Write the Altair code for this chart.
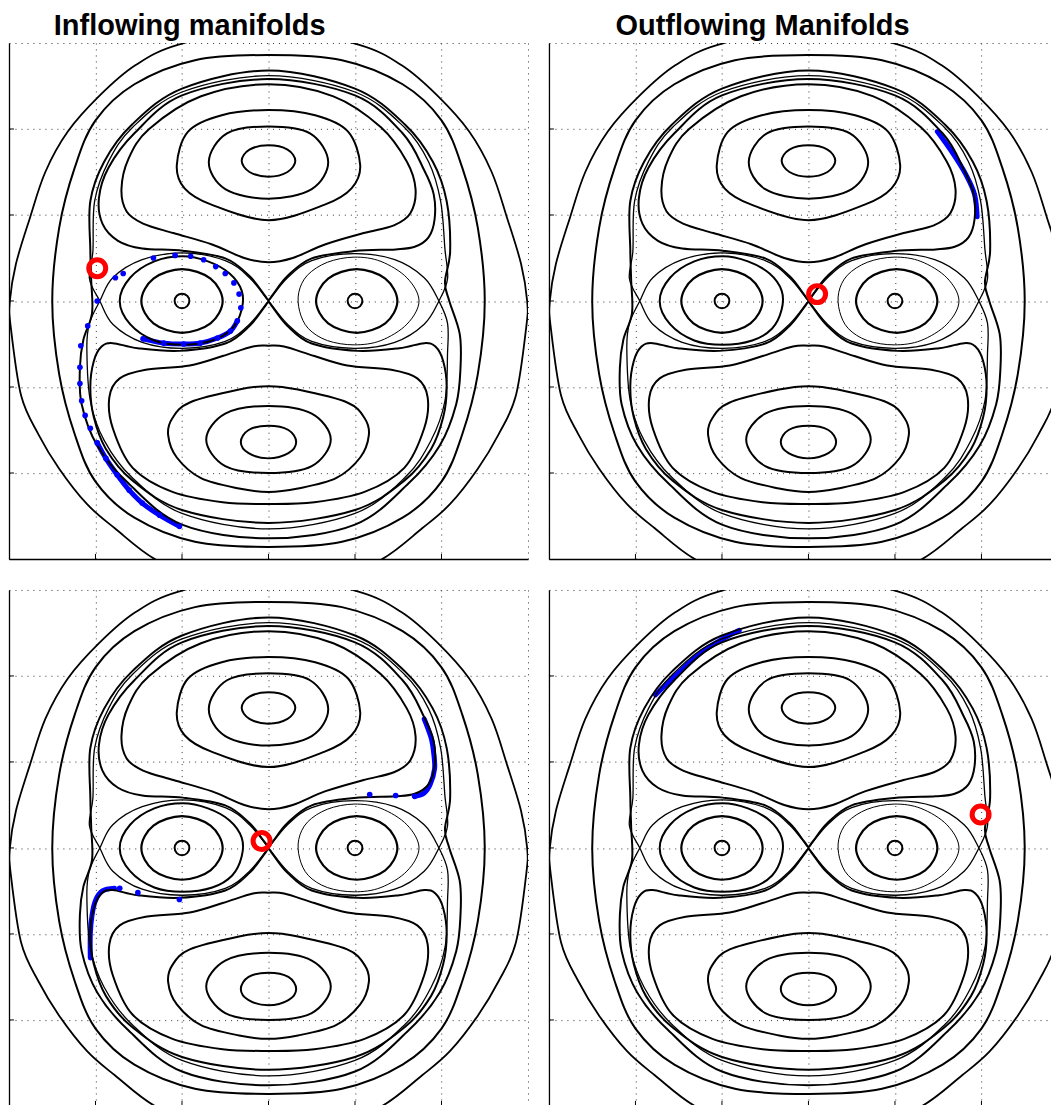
import altair as alt
import pandas as pd

# ---------------- text / axes ----------------
TITLES = ["Inflowing manifolds", "Outflowing Manifolds"]
GRID_VALUES = [-3, -2, -1, 0, 1, 2, 3]
TICK_VALUES = [-2, -1, 0, 1, 2]

# ---------------- contour curves (u, v) ----------------
O1 = [(0, 3.20), (1.04, 2.98), (1.54, 2.74), (1.95, 2.39), (2.32, 1.97), (2.58, 1.50), (2.76, 0.96),
      (2.92, 0.43), (2.99, 0.0), (2.98, -0.30), (2.86, -1.10), (2.66, -1.55), (2.42, -1.95), (2.10, -2.36),
      (1.78, -2.64), (1.28, -3.02), (0.62, -3.25), (0, -3.30), (-0.62, -3.25), (-1.28, -3.02), (-1.78, -2.64),
      (-2.10, -2.36), (-2.42, -1.95), (-2.66, -1.55), (-2.86, -1.10), (-2.98, -0.30), (-2.99, 0.0),
      (-2.92, 0.43), (-2.76, 0.96), (-2.58, 1.50), (-2.32, 1.97), (-1.95, 2.39), (-1.54, 2.74), (-1.04, 2.98)]
O2 = [(0, 2.86), (0.85, 2.80), (1.55, 2.52), (2.00, 2.10), (2.24, 1.55), (2.42, 0.85), (2.50, 0),
      (2.42, -0.85), (2.24, -1.55), (2.00, -2.10), (1.55, -2.52), (0.85, -2.80), (0, -2.86), (-0.85, -2.80),
      (-1.55, -2.52), (-2.00, -2.10), (-2.24, -1.55), (-2.42, -0.85), (-2.50, 0), (-2.42, 0.85),
      (-2.24, 1.55), (-2.00, 2.10), (-1.55, 2.52), (-0.85, 2.80)]
E = [(0, 2.68), (1.0, 2.47), (1.58, 2.05), (1.90, 1.62), (2.06, 1.16), (2.10, 0.58), (2.04, 0.22),
     (2.09, 0.0), (2.21, -0.38), (2.22, -0.77), (2.17, -1.20), (1.98, -1.68), (1.62, -2.12), (1.0, -2.60),
     (0, -2.76), (-1.0, -2.60), (-1.62, -2.12), (-1.98, -1.68), (-2.16, -1.20), (-2.18, -0.77),
     (-2.14, -0.45), (-2.04, -0.14), (-2.05, 0.25), (-2.06, 0.60), (-2.06, 1.16), (-1.90, 1.62),
     (-1.58, 2.05), (-1.0, 2.47)]
S = [(1.97, 0.0), (2.07, 0.26), (2.04, 0.60), (1.99, 1.16), (1.85, 1.62), (1.57, 2.02), (1.00, 2.43),
     (0, 2.62), (-1.00, 2.43), (-1.57, 2.02), (-1.85, 1.62), (-2.01, 1.16), (-2.03, 0.58), (-2.07, 0.26),
     (-1.95, 0.0), (-1.80, -0.27), (-1.46, -0.48), (-0.99, -0.55), (-0.50, -0.47), (-0.22, -0.27), (0, 0),
     (0.22, 0.27), (0.50, 0.47), (0.99, 0.55), (1.46, 0.48), (1.80, 0.27), (1.97, 0.0),
     (2.07, -0.26), (2.07, -0.60), (2.04, -1.16), (1.88, -1.62), (1.58, -2.05), (1.00, -2.47), (0, -2.65),
     (-1.00, -2.47), (-1.58, -2.05), (-1.90, -1.62), (-2.06, -1.16), (-2.10, -0.55), (-2.07, -0.26),
     (-1.95, 0.0), (-1.80, 0.27), (-1.46, 0.48), (-0.99, 0.56), (-0.50, 0.47), (-0.22, 0.27), (0, 0),
     (0.22, -0.27), (0.50, -0.47), (0.99, -0.55), (1.46, -0.48), (1.80, -0.27)]
K5 = [(0, 0.015), (0.05, 0.075), (0.22, 0.29), (0.50, 0.495), (0.99, 0.58), (1.47, 0.60), (1.69, 0.63),
      (1.85, 0.74), (1.92, 0.95), (1.91, 1.24), (1.80, 1.52), (1.55, 1.95), (1.0, 2.39), (0, 2.58),
      (-1.0, 2.39), (-1.55, 1.95), (-1.85, 1.55), (-1.96, 1.20), (-1.92, 0.90), (-1.74, 0.70),
      (-1.46, 0.61), (-0.99, 0.585), (-0.50, 0.495), (-0.22, 0.29), (-0.05, 0.075)]
K5b = [(0, -0.015), (0.05, -0.075), (0.22, -0.29), (0.50, -0.495), (1.03, -0.58), (1.51, -0.55),
       (1.80, -0.49), (1.93, -0.53), (2.02, -0.70), (2.06, -1.0), (2.02, -1.35), (1.88, -1.72),
       (1.58, -2.08), (1.0, -2.43), (0, -2.58), (-1.0, -2.43), (-1.58, -2.08), (-1.88, -1.72),
       (-2.02, -1.35), (-2.06, -1.0), (-2.02, -0.70), (-1.93, -0.53), (-1.80, -0.49), (-1.51, -0.55),
       (-1.03, -0.58), (-0.50, -0.495), (-0.22, -0.29), (-0.05, -0.075)]
K4 = [(0, 2.52), (0.75, 2.38), (1.30, 2.02), (1.60, 1.62), (1.70, 1.30), (1.64, 1.02), (1.45, 0.88),
      (1.10, 0.79), (0.66, 0.66), (0.28, 0.50), (0, 0.45), (-0.28, 0.50), (-0.66, 0.66), (-1.10, 0.79),
      (-1.45, 0.90), (-1.64, 1.04), (-1.70, 1.30), (-1.62, 1.65), (-1.38, 2.00), (-0.78, 2.38)]
K4b = [(0, -0.52), (0.18, -0.53), (0.53, -0.64), (0.91, -0.75), (1.42, -0.80), (1.72, -0.90),
       (1.84, -1.12), (1.80, -1.48), (1.57, -1.94), (1.11, -2.22), (0.53, -2.34), (0, -2.36),
       (-0.53, -2.34), (-1.11, -2.22), (-1.57, -1.94), (-1.80, -1.48), (-1.84, -1.12), (-1.72, -0.90),
       (-1.42, -0.80), (-0.91, -0.75), (-0.53, -0.64), (-0.18, -0.53)]
K3 = [(0, 2.22), (0.54, 2.16), (0.92, 1.97), (1.06, 1.58), (0.96, 1.31), (0.65, 1.12), (0, 0.94),
      (-0.66, 1.12), (-0.97, 1.31), (-1.06, 1.58), (-0.93, 1.97), (-0.54, 2.16)]
K3b = [(0, -0.99), (0.34, -1.03), (0.91, -1.18), (1.11, -1.36), (1.16, -1.56), (1.06, -1.82),
       (0.78, -2.06), (0.34, -2.18), (0, -2.22), (-0.34, -2.18), (-0.78, -2.06), (-1.06, -1.82),
       (-1.16, -1.56), (-1.11, -1.36), (-0.91, -1.18), (-0.34, -1.03)]
K2 = [(0, 2.03), (0.48, 1.95), (0.69, 1.62), (0.50, 1.30), (0, 1.19), (-0.50, 1.30), (-0.69, 1.62),
      (-0.48, 1.95)]
K2b = [(0, -1.22), (0.50, -1.31), (0.72, -1.61), (0.50, -1.92), (0, -2.00), (-0.50, -1.92),
       (-0.72, -1.61), (-0.50, -1.31)]
K1 = [(0, 1.81), (0.22, 1.76), (0.31, 1.63), (0.22, 1.50), (0, 1.445), (-0.22, 1.50), (-0.31, 1.63),
      (-0.22, 1.76)]
K1b = [(0, -1.45), (0.23, -1.50), (0.32, -1.64), (0.23, -1.77), (0, -1.83), (-0.23, -1.77),
       (-0.32, -1.64), (-0.23, -1.50)]
LL = [(-1.72, 0), (-1.60, 0.27), (-1.32, 0.46), (-0.99, 0.52), (-0.70, 0.46), (-0.45, 0.32),
      (-0.31, 0.12), (-0.31, -0.10), (-0.42, -0.32), (-0.65, -0.46), (-0.99, -0.51), (-1.32, -0.46),
      (-1.60, -0.27)]
RL = [(1.74, 0), (1.60, 0.27), (1.30, 0.46), (0.99, 0.51), (0.68, 0.45), (0.45, 0.30), (0.35, 0.10),
      (0.36, -0.12), (0.46, -0.32), (0.68, -0.46), (0.99, -0.51), (1.30, -0.46), (1.60, -0.27)]
IL = [(-0.53, 0), (-0.67, 0.26), (-1.0, 0.37), (-1.33, 0.26), (-1.47, 0), (-1.33, -0.26), (-1.0, -0.37),
      (-0.67, -0.26)]
IR = [(1.49, 0), (1.35, 0.26), (1.02, 0.37), (0.69, 0.26), (0.55, 0), (0.69, -0.26), (1.02, -0.37),
      (1.35, -0.26)]
CL = [(-0.915, 0), (-0.94, 0.06), (-1.0, 0.085), (-1.06, 0.06), (-1.085, 0), (-1.06, -0.06),
      (-1.0, -0.085), (-0.94, -0.06)]
CR = [(1.085, 0), (1.06, 0.06), (1.0, 0.085), (0.94, 0.06), (0.915, 0), (0.94, -0.06), (1.0, -0.085),
      (1.06, -0.06)]

CURVES = {"O1": O1, "O2": O2, "E": E, "S": S, "K5": K5, "K5b": K5b, "K4": K4, "K4b": K4b,
          "K3": K3, "K3b": K3b, "K2": K2, "K2b": K2b, "K1": K1, "K1b": K1b, "LL": LL, "RL": RL,
          "IL": IL, "IR": IR, "CL": CL, "CR": CR}
WIDTHS = {"O1": 1.8, "O2": 2.0, "E": 2.0, "S": 1.3, "K5": 2.0, "K5b": 2.0, "K4": 2.0, "K4b": 2.0,
          "K3": 2.0, "K3b": 2.0, "K2": 2.0, "K2b": 2.0, "K1": 2.0, "K1b": 2.0, "LL": 2.0, "RL": 1.0,
          "IL": 2.2, "IR": 2.2, "CL": 2.0, "CR": 2.0}

# ---------------- manifold samples (blue) and saddle markers (red) ----------------
TL_DOTS = [(-1.03, -2.62), (-1.26, -2.49), (-1.46, -2.35), (-1.61, -2.20), (-1.75, -2.02), (-1.88, -1.83),
           (-1.98, -1.65), (-2.06, -1.48), (-2.12, -1.33), (-2.16, -1.16), (-2.18, -0.96), (-2.18, -0.77),
           (-2.17, -0.52), (-2.09, -0.29), (-1.98, 0.00), (-1.77, 0.27), (-1.68, 0.32), (-1.33, 0.50),
           (-1.08, 0.53), (-0.90, 0.52), (-0.75, 0.48), (-0.61, 0.40), (-0.50, 0.32), (-0.40, 0.21),
           (-0.34, 0.08), (-0.32, -0.08), (-0.36, -0.23), (-0.44, -0.35), (-0.59, -0.43), (-0.79, -0.49),
           (-0.98, -0.50), (-1.21, -0.49), (-1.45, -0.44)]
TL_BANDS = [[(-1.98, -1.65), (-1.88, -1.83), (-1.75, -2.02), (-1.61, -2.20), (-1.46, -2.35),
             (-1.26, -2.49), (-1.03, -2.62)],
            [(-1.45, -0.44), (-1.21, -0.49), (-0.98, -0.50), (-0.79, -0.49), (-0.59, -0.43),
             (-0.44, -0.35), (-0.36, -0.23)]]
TR_DOTS = []
TR_BANDS = [[(1.49, 1.97), (1.66, 1.73), (1.82, 1.47), (1.92, 1.24), (1.95, 0.98)]]
BL_DOTS = [(1.17, 0.62), (1.47, 0.61), (1.69, 0.60), (-1.03, -0.60), (-1.51, -0.52), (-1.72, -0.47)]
BL_BANDS = [[(1.69, 0.60), (1.80, 0.64), (1.87, 0.74), (1.92, 0.92), (1.91, 1.10), (1.88, 1.28),
             (1.80, 1.50)],
            [(-1.78, -0.47), (-1.92, -0.50), (-2.00, -0.61), (-2.04, -0.78), (-2.06, -1.0),
             (-2.06, -1.28)]]
BR_DOTS = []
BR_BANDS = [[(-1.77, 1.78), (-1.49, 2.05), (-1.23, 2.28), (-0.99, 2.43), (-0.80, 2.53)]]
RED = {"TL": (-1.98, 0.38), "TR": (0.10, 0.08), "BL": (-0.08, 0.08), "BR": (1.99, 0.39)}

# ---------------- build tables ----------------
rows = []
for name, pts in CURVES.items():
    for i, (u, v) in enumerate(pts):
        rows.append({"curve": name, "i": i, "u": u, "v": v, "w": WIDTHS[name]})
curves_df = pd.DataFrame(rows)

H = 517
W_LEFT = 520
W_RIGHT = 503                     # right column is cut off by the page edge
X_RIGHT_MAX = -3 + 6 * W_RIGHT / W_LEFT
YS = alt.Scale(domain=[-3, 3], nice=False, zero=False)
AX = alt.Axis(values=GRID_VALUES, grid=True, gridDash=[1, 5], gridColor="#333333", gridWidth=1,
              labels=False, ticks=False, domain=True, domainColor="black", domainWidth=1.3,
              title=None)
BLUE = "#0000ff"


def panel(dots, bands, red, width, xmax, title=None, title_x=0):
    XS = alt.Scale(domain=[-3, xmax], nice=False, zero=False)
    xe = alt.X("u:Q", scale=XS, axis=AX)
    ye = alt.Y("v:Q", scale=YS, axis=AX)
    layers = []
    brows = []
    for s, seg in enumerate(bands):
        for i, (u, v) in enumerate(seg):
            brows.append({"seg": s, "i": i, "u": u, "v": v})
    if brows:
        layers.append(alt.Chart(pd.DataFrame(brows)).mark_line(
            interpolate="cardinal", color=BLUE, strokeWidth=5, strokeCap="round", clip=True
        ).encode(x=xe, y=ye, detail="seg:N", order="i:Q"))
    layers.append(alt.Chart(curves_df).mark_line(
        interpolate="cardinal-closed", color="black", clip=True
    ).encode(x=xe, y=ye, detail="curve:N", order="i:Q",
             strokeWidth=alt.StrokeWidth("w:Q", scale=None)))
    tdf = pd.DataFrame({"t": TICK_VALUES})
    layers.append(alt.Chart(tdf).mark_rule(color="black", strokeWidth=1).encode(
        y=alt.Y("t:Q", scale=YS, axis=AX), x=alt.value(0), x2=alt.value(5)))
    layers.append(alt.Chart(tdf).mark_rule(color="black", strokeWidth=1).encode(
        x=alt.X("t:Q", scale=XS, axis=AX), y=alt.value(H), y2=alt.value(H - 5)))
    if dots:
        ddf = pd.DataFrame(dots, columns=["u", "v"])
        layers.append(alt.Chart(ddf).mark_circle(size=32, color=BLUE, opacity=1, clip=True).encode(
            x=xe, y=ye))
    rdf = pd.DataFrame([red], columns=["u", "v"])
    layers.append(alt.Chart(rdf).mark_point(shape="circle", filled=False, color="#ff0000",
                                            size=289, strokeWidth=5, opacity=1).encode(x=xe, y=ye))
    if title is not None:
        layers.append(alt.Chart(pd.DataFrame({"t": [title]})).mark_text(
            font="Liberation Sans", fontSize=29, fontWeight="bold", baseline="alphabetic",
            align="center", color="black"
        ).encode(text="t:N", x=alt.value(title_x), y=alt.value(-8)))
    return alt.layer(*layers).properties(width=width, height=H)


tl = panel(TL_DOTS, TL_BANDS, RED["TL"], W_LEFT, 3, TITLES[0], 181)
tr = panel(TR_DOTS, TR_BANDS, RED["TR"], W_RIGHT, X_RIGHT_MAX, TITLES[1], 214)
bl = panel(BL_DOTS, BL_BANDS, RED["BL"], W_LEFT, 3)
br = panel(BR_DOTS, BR_BANDS, RED["BR"], W_RIGHT, X_RIGHT_MAX)

chart = alt.vconcat(
    alt.hconcat(tl, tr, spacing=20),
    alt.hconcat(bl, br, spacing=20),
    spacing=30,
).configure_view(stroke=None).properties(
    background="white", padding={"top": 3, "left": 0, "right": 0, "bottom": 0})

chart.save("out.html", embed_options={"renderer": "svg", "actions": False})
